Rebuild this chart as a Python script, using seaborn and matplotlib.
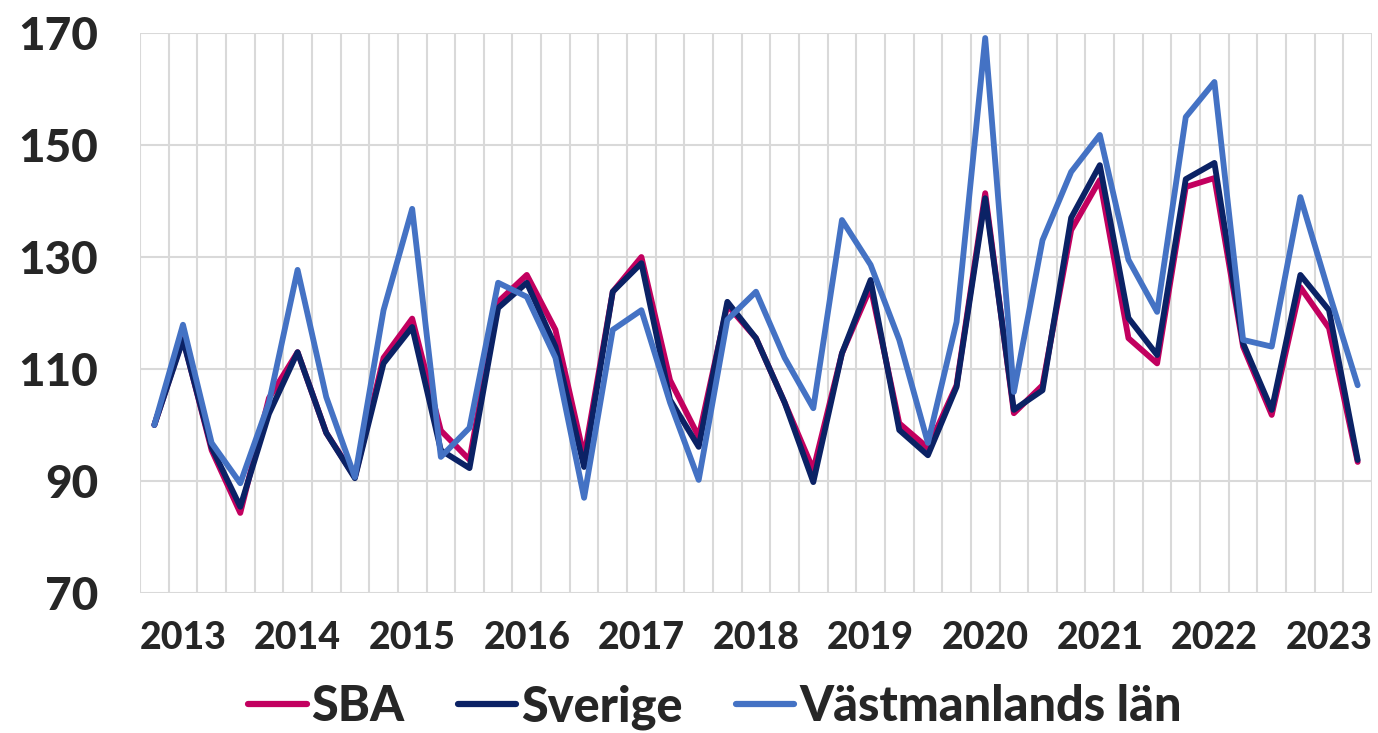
import numpy as np
import pandas as pd
import seaborn as sns
import matplotlib.pyplot as plt
from matplotlib.ticker import FixedLocator

years = ["2013", "2014", "2015", "2016", "2017", "2018", "2019",
         "2020", "2021", "2022", "2023"]

sba = [100, 115.5, 95.5, 84.3, 104.8, 113, 98.6, 90.7, 112, 119, 99, 93.8,
       122, 126.8, 117, 94.3, 123.8, 130, 108, 97.9, 121.4, 115.5, 104, 92,
       112.8, 124.6, 100.3, 95.9, 107.1, 141.4, 102.1, 107.1, 134.8, 143.75,
       115.5, 111, 142.5, 144.1, 114, 101.8, 124.6, 117.3, 93.4]

sverige = [100, 115.2, 96, 85.4, 102, 113, 98.6, 90.5, 111, 117.5, 95.5, 92.3,
           120.9, 125.4, 114, 92.5, 123.8, 128.9, 104.5, 96.1, 122, 115.5, 104,
           89.8, 112.8, 125.9, 99.1, 94.6, 106.8, 140.5, 102.7, 106.2, 137,
           146.4, 119.1, 112.5, 143.9, 146.8, 114.6, 102.7, 126.8, 120.5, 93.75]

vastmanland = [100, 117.9, 96.8, 89.6, 104, 127.7, 105, 90.7, 120.5, 138.6,
               94.3, 99.5, 125.4, 122.9, 112, 87, 117, 120.5, 104, 90.2, 118.8,
               123.8, 112, 103, 136.6, 128.6, 115.2, 96.8, 118.4, 169.1, 105.9,
               133, 145.2, 151.8, 129.5, 120.2, 155, 161.25, 115.2, 114, 140.7,
               123.6, 107.1]

names = ["SBA", "Sverige", "Västmanlands län"]
colors = ["#C2005F", "#0B2265", "#4472C4"]

n = len(sba)
df = pd.DataFrame({
    "q": np.tile(np.arange(n), 3),
    "value": sba + sverige + vastmanland,
    "serie": np.repeat(names, n),
})

sns.set_style("white")
plt.rcParams["font.family"] = ["Lato", "DejaVu Sans"]
plt.rcParams["font.weight"] = "black"

fig = plt.figure(figsize=(13.78, 7.33), dpi=100)
ax = fig.add_axes([140 / 1378, 1 - 593 / 733, 1232 / 1378, 560 / 733])

sns.lineplot(data=df, x="q", y="value", hue="serie", palette=colors,
             hue_order=names, linewidth=4.2, ax=ax, legend=True)

ax.set_xlim(-0.5, n - 0.5)
ax.set_ylim(70, 170)
ax.set_yticks([70, 90, 110, 130, 150, 170])

# year label under the second quarter of each year
ax.set_xticks([4 * i + 1 for i in range(len(years))])
ax.set_xticklabels(years)
ax.xaxis.set_minor_locator(FixedLocator(np.arange(-0.5, n, 1)))

ax.grid(False)
ax.grid(True, which="minor", axis="x", color="#D9D9D9", linewidth=1.5)
ax.grid(True, which="major", axis="y", color="#D9D9D9", linewidth=1.5)
ax.set_axisbelow(True)
for s in ax.spines.values():
    s.set_visible(False)

ax.tick_params(axis="y", length=0, pad=30, labelsize=33)
ax.tick_params(axis="x", which="both", length=0, pad=20, labelsize=27)
for lab in ax.get_xticklabels() + ax.get_yticklabels():
    lab.set_fontweight("black")

ax.set_xlabel("")
ax.set_ylabel("")

ax.get_legend().remove()
handles, labels = ax.get_legend_handles_labels()
for h in handles:
    h.set_linewidth(4.5)
    h.set_solid_capstyle("round")
fig.legend(handles, labels, loc="center", bbox_to_anchor=(715 / 1378, 1 - 707 / 733),
           ncol=3, frameon=False, handlelength=1.2, handletextpad=0.1,
           columnspacing=1.1, prop={"size": 35, "weight": "black"})

fig.savefig("out.png", dpi=100)
